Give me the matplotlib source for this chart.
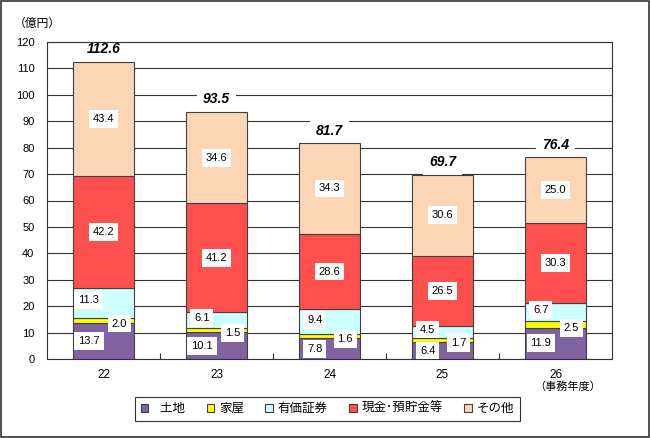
import matplotlib
matplotlib.use("Agg")
import matplotlib.pyplot as plt
import numpy as np
from matplotlib.patches import Rectangle

plt.rcParams["font.family"] = ["Liberation Sans", "Noto Sans CJK JP"]

# ── Data ──────────────────────────────────────────────────────────────────────
years = ["22", "23", "24", "25", "26"]
land = [13.7, 10.1, 7.8, 6.4, 11.9]        # 土地
house = [2.0, 1.5, 1.6, 1.7, 2.5]          # 家屋
securities = [11.3, 6.1, 9.4, 4.5, 6.7]    # 有価証券
cash = [42.2, 41.2, 28.6, 26.5, 30.3]      # 現金・預貯金等
other = [43.4, 34.6, 34.3, 30.6, 25.0]     # その他
totals = [112.6, 93.5, 81.7, 69.7, 76.4]

series = [
    ("  土地", land, "#8064A2"),
    ("家屋", house, "#FFFF00"),
    ("有価証券", securities, "#CCFFFF"),
    ("現金･預貯金等", cash, "#FF5050"),
    ("その他", other, "#FCD5B5"),
]

# ── Figure ────────────────────────────────────────────────────────────────────
fig = plt.figure(figsize=(6.5, 4.38), dpi=100)
ax = fig.add_axes([47 / 650, 1 - 359 / 438, 565 / 650, 317 / 438])

x = np.arange(len(years))
width = 0.54
bottom = np.zeros(len(years))
box = dict(boxstyle="square,pad=0.35", fc="white", ec="none")

for i, (name, vals, color) in enumerate(series):
    vals = np.array(vals)
    ax.bar(x, vals, width, bottom=bottom, color=color, edgecolor="#404040",
           linewidth=0.8, label=name, zorder=2)
    for xi, b, v in zip(x, bottom, vals):
        if i == 0:
            px, py = xi - 0.13, b + v / 2
        elif i == 1:
            px, py = xi + 0.14, b - 0.3
        elif i == 2:
            px, py = xi - 0.13, b + v / 2 + 0.8
        else:
            px, py = xi, b + v / 2
        ax.text(px, py, f"{v:.1f}", ha="center", va="center", fontsize=8,
                bbox=box, zorder=5)
    bottom += vals

for xi, t in zip(x, totals):
    ax.annotate(f"{t:.1f}", (xi, t), xytext=(0, 4), textcoords="offset points",
                ha="center", va="bottom", fontsize=10, fontweight="bold",
                fontstyle="italic",
                bbox=dict(boxstyle="square,pad=0.4", fc="white", ec="none"),
                zorder=1.5)

ax.set_xlim(-0.5, len(years) - 0.5)
ax.set_ylim(0, 120)
ax.set_yticks(np.arange(0, 121, 10))
ax.set_xticks(x)
ax.set_xticklabels(years)
ax.set_xticks(np.arange(0.5, len(years) - 0.5, 1), minor=True)
ax.tick_params(axis="x", which="major", length=0, labelsize=8.5, pad=7)
ax.tick_params(axis="x", which="minor", direction="in", length=4,
               width=0.8, color="#333333")
ax.tick_params(axis="y", length=0, labelsize=8, pad=9)
ax.yaxis.grid(True, color="#333333", linewidth=0.8, zorder=0)
ax.set_axisbelow(True)
for s in ax.spines.values():
    s.set_color("#333333")
    s.set_linewidth(0.8)
    s.set_zorder(4)

fig.text(37 / 650, 1 - 24 / 438, "（億円）", ha="center", va="center",
         fontsize=8.5)
fig.text(568 / 650, 1 - 387 / 438, "（事務年度）", ha="center", va="center",
         fontsize=8)

leg = fig.legend(loc="center", bbox_to_anchor=(327.5 / 650, 1 - 409 / 438),
                 ncol=5, fontsize=9, frameon=True, fancybox=False,
                 edgecolor="black", handlelength=0.6, handleheight=0.6,
                 handletextpad=0.4, columnspacing=1.7, borderpad=0.45)
leg.get_frame().set_linewidth(0.8)

fig.patches.append(Rectangle((0.002, 0.003), 0.996, 0.994, transform=fig.transFigure,
                             fill=False, ec="#333333", lw=1.2))

fig.savefig("out.png", dpi=100)
